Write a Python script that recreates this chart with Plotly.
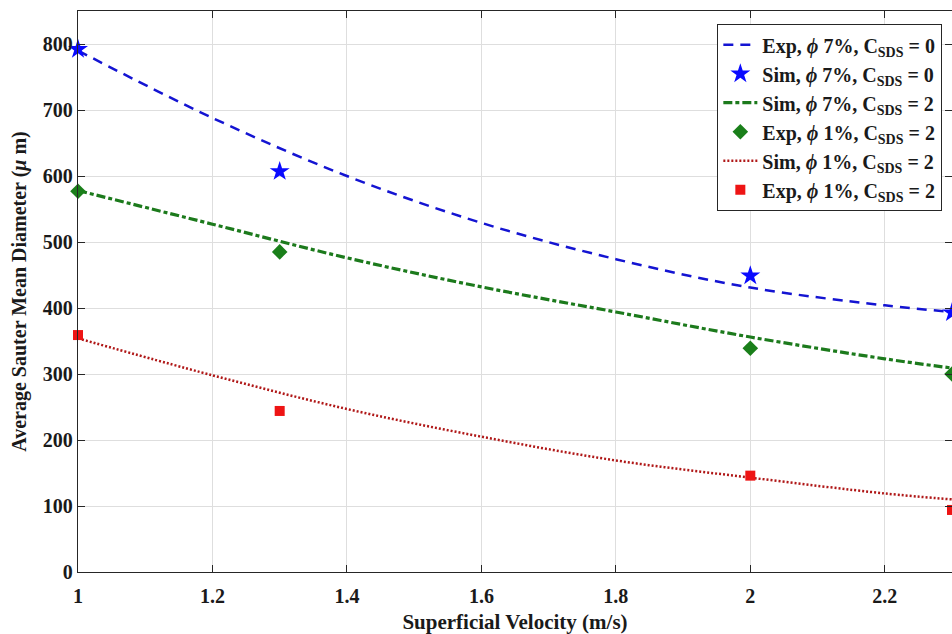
import plotly.graph_objects as go

# Fitted curves (sampled along the velocity axis)
curve_x = [1.0, 1.2, 1.4, 1.6, 1.8, 2.0, 2.2, 2.3]
curve_blue = [790, 688, 600, 529, 474, 431, 404, 394]
curve_green = [578, 527, 476, 432, 394, 356, 323, 309]
curve_red = [354, 298, 247, 205, 169, 143, 119, 110]

# Discrete measurement points
point_x = [1.0, 1.3, 2.0, 2.3]
points_star = [792, 607, 449, 393]
points_diamond = [577, 485, 339, 300]
points_square = [359, 244, 146, 94]

x_ticks = [1, 1.2, 1.4, 1.6, 1.8, 2, 2.2]
y_ticks = [0, 100, 200, 300, 400, 500, 600, 700, 800]

def label(kind, phi, c):
    return f"{kind}, <i>\u03d5</i> {phi}%, C<sub>SDS</sub> = {c}"

FONT = "Liberation Serif"

fig = go.Figure()
fig.add_trace(go.Scatter(
    x=curve_x, y=curve_blue, mode="lines", line_shape="spline",
    line=dict(color="#1414d2", width=2.5, dash="10px,7px"),
    name=label("Exp", 7, 0)))
fig.add_trace(go.Scatter(
    x=point_x, y=points_star, mode="markers", cliponaxis=False,
    marker=dict(symbol="star", size=15, color="#0a0aff"),
    name=label("Sim", 7, 0)))
fig.add_trace(go.Scatter(
    x=curve_x, y=curve_green, mode="lines", line_shape="spline",
    line=dict(color="#1c7a1c", width=3.2, dash="9px,3px,4px,3px"),
    name=label("Sim", 7, 2)))
fig.add_trace(go.Scatter(
    x=point_x, y=points_diamond, mode="markers", cliponaxis=False,
    marker=dict(symbol="diamond", size=12, color="#1a7f1a"),
    name=label("Exp", 1, 2)))
fig.add_trace(go.Scatter(
    x=curve_x, y=curve_red, mode="lines", line_shape="spline",
    line=dict(color="#b01818", width=2.5, dash="2px,2px"),
    name=label("Sim", 1, 2)))
fig.add_trace(go.Scatter(
    x=point_x, y=points_square, mode="markers", cliponaxis=False,
    marker=dict(symbol="square", size=10, color="#ee1414"),
    name=label("Exp", 1, 2)))

axis_common = dict(
    showline=True, linecolor="#262626", linewidth=1.3, mirror="allticks",
    ticks="inside", ticklen=7, tickcolor="#262626",
    showgrid=True, gridcolor="#dedede", gridwidth=1, zeroline=False,
    tickfont=dict(family=FONT, size=20, color="#1a1a1a", weight="bold"),
)

fig.update_xaxes(
    range=[1, 2.3], tickvals=x_ticks, ticklabelstandoff=6,
    title=dict(text="<b>Superficial Velocity (m/s)</b>",
               font=dict(family=FONT, size=21, color="#1a1a1a"), standoff=10),
    **axis_common)
fig.update_yaxes(
    range=[0, 850], tickvals=y_ticks,
    title=dict(text="<b>Average Sauter Mean Diameter (<i>\u03bc</i> m)</b>",
               font=dict(family=FONT, size=20, color="#1a1a1a"), standoff=10),
    **axis_common)

fig.update_layout(
    width=952, height=634,
    margin=dict(l=78, r=0, t=11, b=62),
    paper_bgcolor="white", plot_bgcolor="white",
    showlegend=True,
    legend=dict(
        x=0.9886, y=0.977, xanchor="right", yanchor="top",
        bgcolor="white", bordercolor="#262626", borderwidth=1.3,
        font=dict(family=FONT, size=20, color="#1a1a1a", weight="bold"),
        itemwidth=34, tracegroupgap=0,
    ),
)

fig.write_html("out.html")
